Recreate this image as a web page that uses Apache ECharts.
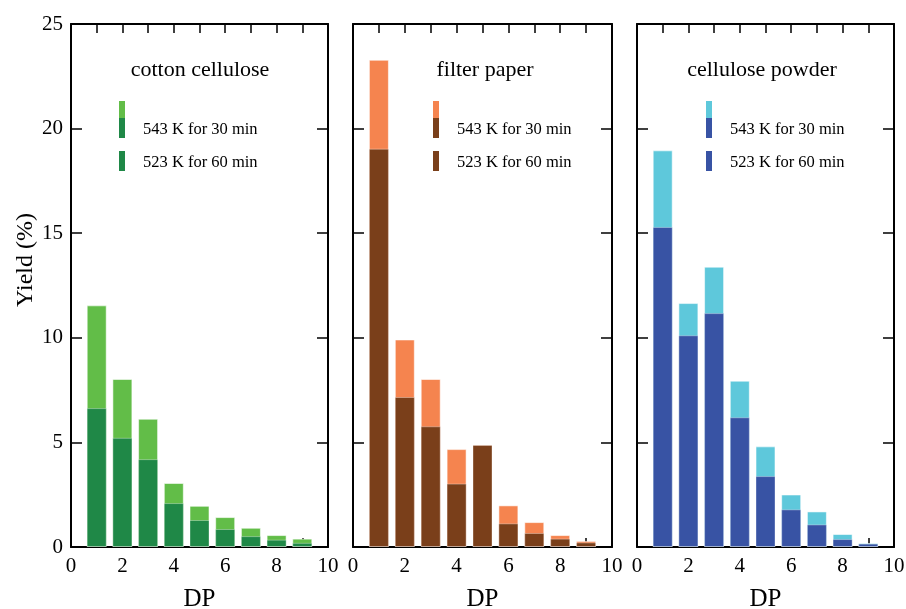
<!DOCTYPE html>
<html>
<head>
<meta charset="utf-8">
<script src="https://cdn.jsdelivr.net/npm/echarts@6/dist/echarts.min.js"></script>
<style>
  html, body { margin: 0; padding: 0; background: #ffffff; }
  #chart { width: 906px; height: 609px; }
</style>
</head>
<body>
<div id="chart"></div>
<script>
// Degree of polymerisation for each bar
const dp = [1, 2, 3, 4, 5, 6, 7, 8, 9];

// Yields (%) per substrate and hydrolysis condition
const cotton543 = [11.55, 8.03, 6.13, 3.06, 1.97, 1.43, 0.92, 0.57, 0.40];
const cotton523 = [6.64, 5.22, 4.20, 2.10, 1.29, 0.86, 0.52, 0.35, 0.20];
const filter543 = [23.29, 9.92, 8.03, 4.68, 4.88, 1.99, 1.19, 0.57, 0.29];
const filter523 = [19.04, 7.17, 5.77, 3.03, 4.88, 1.13, 0.67, 0.40, 0.22];
const powder543 = [18.96, 11.66, 13.40, 7.95, 4.81, 2.51, 1.70, 0.62, 0.19];
const powder523 = [15.30, 10.12, 11.18, 6.20, 3.39, 1.80, 1.08, 0.38, 0.16];

const panelTitles = ['cotton cellulose', 'filter paper', 'cellulose powder'];
const conditionNames = ['543 K for 30 min', '523 K for 60 min'];
const xLabels = [0, 2, 4, 6, 8, 10];
const yRange = [0, 25];

const FONT = '"Liberation Serif", "Times New Roman", serif';

const panels = [
  { title: panelTitles[0], hi: cotton543, lo: cotton523, light: '#62bd48', dark: '#1f8847',
    left: 71, width: 257, titleX: 200, legendDx: 48 },
  { title: panelTitles[1], hi: filter543, lo: filter523, light: '#f5844f', dark: '#7a3f1a',
    left: 353, width: 259, titleX: 485, legendDx: 80 },
  { title: panelTitles[2], hi: powder543, lo: powder523, light: '#5ec8db', dark: '#3853a4',
    left: 637, width: 257, titleX: 762, legendDx: 69 }
];

const GRID_TOP = 24;
const GRID_H = 523;

const grid = [], xAxis = [], yAxis = [], series = [], graphic = [];

panels.forEach((p, i) => {
  grid.push({
    left: p.left, top: GRID_TOP, width: p.width, height: GRID_H,
    containLabel: false, outerBoundsMode: 'none'
  });

  const axisLine = { show: true, onZero: false, lineStyle: { color: '#000', width: 2 } };

  // bottom x axis carrying the bars
  xAxis.push({
    type: 'value', gridIndex: i, min: 0, max: 10, interval: 1, position: 'bottom',
    axisLine,
    axisTick: { show: true, inside: true, length: 9, lineStyle: { color: '#000', width: 1.5 } },
    axisLabel: {
      color: '#000', fontFamily: FONT, fontSize: 21, margin: 9,
      formatter: v => (xLabels.indexOf(v) >= 0 ? String(v) : '')
    },
    splitLine: { show: false },
    name: 'DP', nameLocation: 'middle', nameGap: 40,
    nameTextStyle: { color: '#000', fontFamily: FONT, fontSize: 25 }
  });
  // top frame
  xAxis.push({
    type: 'value', gridIndex: i, min: 0, max: 10, interval: 1, position: 'top',
    axisLine,
    axisTick: { show: true, inside: true, length: 9, lineStyle: { color: '#000', width: 1.5 } },
    axisLabel: { show: false }, splitLine: { show: false }
  });

  yAxis.push({
    type: 'value', gridIndex: i, min: yRange[0], max: yRange[1], interval: 5, position: 'left',
    axisLine,
    axisTick: { show: true, inside: true, length: 11, lineStyle: { color: '#000', width: 1.5 } },
    axisLabel: { show: i === 0, color: '#000', fontFamily: FONT, fontSize: 21, margin: 8 },
    splitLine: { show: false }
  });
  yAxis.push({
    type: 'value', gridIndex: i, min: yRange[0], max: yRange[1], interval: 5, position: 'right',
    axisLine,
    axisTick: { show: true, inside: true, length: 11, lineStyle: { color: '#000', width: 1.5 } },
    axisLabel: { show: false }, splitLine: { show: false }
  });

  const barCommon = {
    type: 'bar', xAxisIndex: i * 2, yAxisIndex: i * 2,
    barWidth: 20, barGap: '-100%', animation: false,
    emphasis: { disabled: true }
  };
  series.push(Object.assign({}, barCommon, {
    name: conditionNames[0],
    data: dp.map((d, k) => [d, p.hi[k]]),
    itemStyle: { color: p.light, borderColor: 'rgba(255,255,255,0.55)', borderWidth: 1 }
  }));
  series.push(Object.assign({}, barCommon, {
    name: conditionNames[1],
    data: dp.map((d, k) => [d, p.lo[k]]),
    itemStyle: { color: p.dark, borderColor: 'rgba(255,255,255,0.35)', borderWidth: 1 }
  }));

  // panel title
  graphic.push({
    type: 'text', z: 10, position: [p.titleX, 70],
    style: { text: p.title, fill: '#000', font: '22px ' + FONT, align: 'center', verticalAlign: 'middle' }
  });

  // legend: two-tone swatch for the 543 K run, plain swatch for 523 K
  const sx = p.left + p.legendDx;
  graphic.push({ type: 'rect', shape: { x: sx, y: 101, width: 6, height: 17 }, style: { fill: p.light }, z: 10 });
  graphic.push({ type: 'rect', shape: { x: sx, y: 118, width: 6, height: 20 }, style: { fill: p.dark }, z: 10 });
  graphic.push({ type: 'rect', shape: { x: sx, y: 151, width: 6, height: 20 }, style: { fill: p.dark }, z: 10 });
  graphic.push({
    type: 'text', z: 10, position: [sx + 24, 130],
    style: { text: conditionNames[0], fill: '#000', font: '16.5px ' + FONT, verticalAlign: 'middle' }
  });
  graphic.push({
    type: 'text', z: 10, position: [sx + 24, 163],
    style: { text: conditionNames[1], fill: '#000', font: '16.5px ' + FONT, verticalAlign: 'middle' }
  });
});

// shared y-axis title
graphic.push({
  type: 'text', z: 10, position: [26, 260], rotation: Math.PI / 2,
  style: { text: 'Yield (%)', fill: '#000', font: '24px ' + FONT, align: 'center', verticalAlign: 'middle' }
});

const chart = echarts.init(document.getElementById('chart'), null, { renderer: 'canvas' });
chart.setOption({
  backgroundColor: '#ffffff',
  animation: false,
  grid, xAxis, yAxis, series, graphic
});
</script>
</body>
</html>
